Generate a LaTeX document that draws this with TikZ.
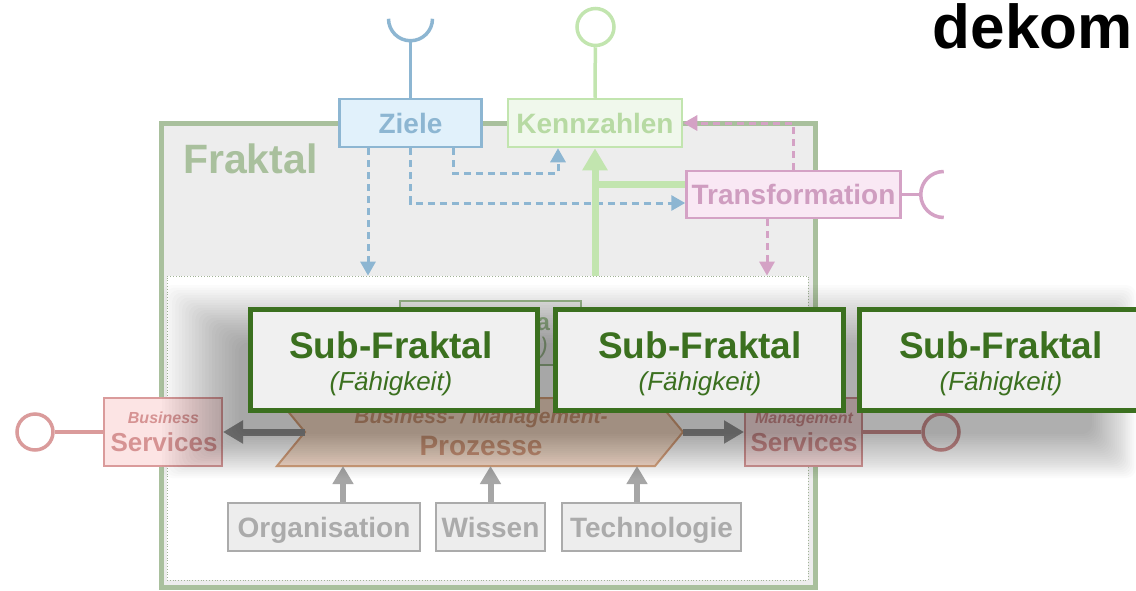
\documentclass[tikz,border=0pt]{standalone}
\usepackage{fontspec}
\setmainfont{Liberation Sans}
\usetikzlibrary{arrows.meta,calc}

\definecolor{frgreen}{HTML}{A9C09D}
\definecolor{frfill}{HTML}{EDEDED}
\definecolor{zblue}{HTML}{8DB6D2}
\definecolor{zbluefill}{HTML}{E1F1FB}
\definecolor{kgreen}{HTML}{C2E5AF}
\definecolor{kgreenfill}{HTML}{F0F8EC}
\definecolor{kgreentext}{HTML}{B7DAA3}
\definecolor{tpink}{HTML}{D4A2C5}
\definecolor{tpinkfill}{HTML}{F9E8F4}
\definecolor{tpinktext}{HTML}{CF9DC0}
\definecolor{subgreen}{HTML}{3B701F}
\definecolor{subfill}{HTML}{F0F0F0}
\definecolor{svred}{HTML}{DA9B9B}
\definecolor{svfill}{HTML}{FCE4E4}
\definecolor{svtext}{HTML}{D69393}
\definecolor{procline}{HTML}{DDA77F}
\definecolor{procfill}{HTML}{F8E0CD}
\definecolor{proctext}{HTML}{D29C7C}
\definecolor{resgray}{HTML}{ABABAB}
\definecolor{resfill}{HTML}{EDEDED}
\definecolor{flowgray}{HTML}{9A9A9A}
\definecolor{upgray}{HTML}{A6A6A6}
\definecolor{hidgreen}{HTML}{9FBB91}

\begin{document}
\begin{tikzpicture}[x=1pt,y=-1pt,
  labelbox/.style={draw, line width=2.5pt, inner sep=0pt,
    font=\fontsize{28}{28}\selectfont\bfseries, text height=20pt, text depth=0pt},
  resbox/.style={labelbox, draw=resgray, fill=resfill, text=resgray, minimum height=48pt},
  svbox/.style={draw=svred, fill=svfill, line width=2pt, minimum width=118pt, minimum height=68pt, inner sep=0pt},
  svsmall/.style={text=svtext, inner sep=0pt, anchor=base, font=\fontsize{16}{16}\selectfont\bfseries\itshape},
  svbig/.style={text=svtext, inner sep=0pt, anchor=base, font=\fontsize{26}{26}\selectfont\bfseries},
  ball/.style={circle, draw=#1, line width=3.5pt, fill=white, minimum size=36pt, inner sep=0pt},
  subbox/.style={draw=subgreen, line width=5pt, fill=subfill, minimum width=288pt, minimum height=101pt, inner sep=0pt},
  subtitle/.style={text=subgreen, inner sep=0pt, anchor=base, font=\fontsize{37}{37}\selectfont\bfseries},
  subcap/.style={text=subgreen, inner sep=0pt, anchor=base, font=\fontsize{26}{26}\selectfont\itshape},
  bluedash/.style={draw=zblue, line width=3pt, dash pattern=on 7pt off 5pt, -{Triangle[length=14pt,width=15pt]}},
  pinkdash/.style={draw=tpink, line width=3pt, dash pattern=on 7pt off 5pt, -{Triangle[length=14pt,width=15pt]}},
  flowarrow/.style={draw=flowgray, line width=7pt, -{Triangle[length=20pt,width=22pt]}},
  uparrow/.style={draw=upgray, line width=6pt, -{Triangle[length=18pt,width=20pt]}},
  socket/.style={line width=3.5pt}
]
\useasboundingbox (0,0) rectangle (1136,590);

% the fractal frame and its inner area
\node[draw=frgreen, fill=frfill, line width=5pt, minimum width=654pt, minimum height=464pt, inner sep=0pt] (fraktal) at (488,355) {};
\node[anchor=base west, inner sep=0pt, text=frgreen, font=\fontsize{41}{41}\selectfont\bfseries] (fraktallbl) at (183,173) {Fraktal};
\node[draw=frgreen!80!gray, fill=white, line width=0.8pt, dotted, minimum width=641pt, minimum height=304pt, inner sep=0pt] (inner) at (487.5,428) {};

% control boxes on the frame
\node[labelbox, draw=zblue, fill=zbluefill, text=zblue, minimum width=142pt, minimum height=48pt] (ziele) at (410.5,123) {Ziele};
\node[labelbox, draw=kgreen, fill=kgreenfill, text=kgreentext, minimum width=174pt, minimum height=48pt] (kenn) at (595,123) {Kennzahlen};
\node[labelbox, draw=tpink, fill=tpinkfill, text=tpinktext, minimum width=214pt, minimum height=47pt] (trans) at (793.5,194.5) {Transformation};

% goal flows
\coordinate (zA) at ([xshift=-42.5pt]ziele.south);
\coordinate (zB) at (ziele.south);
\coordinate (zC) at ([xshift=42.5pt]ziele.south);
\draw[bluedash] (zA) -- (zA |- inner.north);
\draw[bluedash] (zB) |- ([yshift=-8.5pt]trans.west);
\draw[bluedash] (zC) -- ++(0,25) -| ([xshift=-37pt]kenn.south);

% measurement flow
\coordinate (tw) at ([yshift=10.5pt]trans.west);
\draw[kgreen, line width=7pt] (kenn.south |- tw) -- (tw);
\draw[kgreen, line width=7pt, -{Triangle[length=22pt,width=24pt]}] (kenn.south |- inner.north) -- (kenn.south);

% transformation flows
\coordinate (tS) at ([xshift=-26.5pt]trans.south);
\draw[pinkdash] ([xshift=-0.5pt]trans.north) |- (kenn.east);
\draw[pinkdash] (tS) -- (tS |- inner.north);

% interfaces of the control boxes
\draw[zblue, socket] (ziele.north) -- ++(0,-57) coordinate (zsock);
\draw[zblue, socket] (zsock) ++(-22,-22) arc[start angle=180, end angle=0, radius=22];
\node[ball=kgreen, minimum size=37pt] (kball) at (595.5,27) {};
\draw[kgreen, socket] (kenn.north) -- (kball);
\draw[tpink, socket] (trans.east) -- ++(19,0) coordinate (tsock);
\draw[tpink, socket] (tsock) ++(23,23) arc[start angle=90, end angle=270, radius=23];

% logo
\node[anchor=base east, inner sep=0pt, font=\fontsize{62}{62}\selectfont\bfseries] (logo) at (1133,48) {dekom};

% sub-fractal in the background, mostly covered
\node[draw=hidgreen, fill=subfill, line width=2pt, minimum width=181pt, minimum height=64pt, inner sep=0pt] (hidden) at (490.5,333) {};
\begin{scope}
  \clip (537,300) rectangle (556,366);
  \node[anchor=base west, inner sep=0pt, text=hidgreen, font=\fontsize{24}{24}\selectfont\bfseries] (hiddena) at (536.5,330) {a};
  \node[anchor=base east, inner sep=0pt, text=hidgreen, font=\fontsize{24}{24}\selectfont\itshape] (hiddenb) at (548,354) {)};
\end{scope}

% process chevron
\coordinate (pnotch) at (305,432);
\coordinate (ptip) at (683,432);
\coordinate (pbot) at (480,466);
\draw[procline, fill=procfill, line width=2pt] (277,398) -- (655,398) -- (ptip) -- (655,466) -- (277,466) -- (pnotch) -- cycle;
\node[anchor=base, inner sep=0pt, text=proctext, font=\fontsize{21}{21}\selectfont\bfseries\itshape] (proca) at (481,423) {Business- / Management-};
\node[anchor=base, inner sep=0pt, text=proctext, font=\fontsize{28}{28}\selectfont\bfseries] (procb) at (481,455) {Prozesse};

% services with their interfaces
\node[svbox] (bs) at (163,432) {};
\node[svsmall] (bsa) at (163.5,423) {Business};
\node[svbig] (bsb) at (164,451) {Services};
\node[svbox, minimum width=117pt] (ms) at (803.5,432) {};
\node[svsmall] (msa) at (804,423) {Management};
\node[svbig] (msb) at (804,451) {Services};
\node[ball=svred] (bball) at (35,432) {};
\node[ball=svred] (mball) at (941,432) {};
\draw[svred, socket] (bs) -- (bball);
\draw[svred, socket] (ms) -- (mball);
\draw[flowarrow] (pnotch) -- (bs.east);
\draw[flowarrow] (ptip) -- (ms.west);

% resources
\node[resbox, minimum width=192pt] (org) at (324,527) {Organisation};
\node[resbox, minimum width=109pt] (wis) at (490.5,527) {Wissen};
\node[resbox, minimum width=179pt] (tec) at (651.5,527) {Technologie};
\coordinate (orgup) at ([xshift=19pt]org.north);
\coordinate (tecup) at ([xshift=-14.5pt]tec.north);
\draw[uparrow] (orgup) -- (orgup |- pbot);
\draw[uparrow] (wis.north) -- (wis.north |- pbot);
\draw[uparrow] (tecup) -- (tecup |- pbot);

% soft shadow of the sub-fractal row
\foreach \i in {1,...,24}{
  \fill[black, fill opacity=0.014, rounded corners=10pt]
    ({242-80*\i/24},{345-60*\i/24}) rectangle ({1090+46*\i/24},{432+46*\i/24});
}

% sub-fractals
\node[subbox, minimum width=287pt] (sub1) at (393.5,359.5) {};
\node[subbox] (sub2) at (699,359.5) {};
\node[subbox] (sub3) at (1003,359.5) {};
\node[subtitle] (sub1a) at (391,358) {Sub-Fraktal};
\node[subcap] (sub1b) at (391,390) {(Fähigkeit)};
\node[subtitle] (sub2a) at (700,358) {Sub-Fraktal};
\node[subcap] (sub2b) at (700,390) {(Fähigkeit)};
\node[subtitle] (sub3a) at (1001,358) {Sub-Fraktal};
\node[subcap] (sub3b) at (1001,390) {(Fähigkeit)};
\end{tikzpicture}
\end{document}
